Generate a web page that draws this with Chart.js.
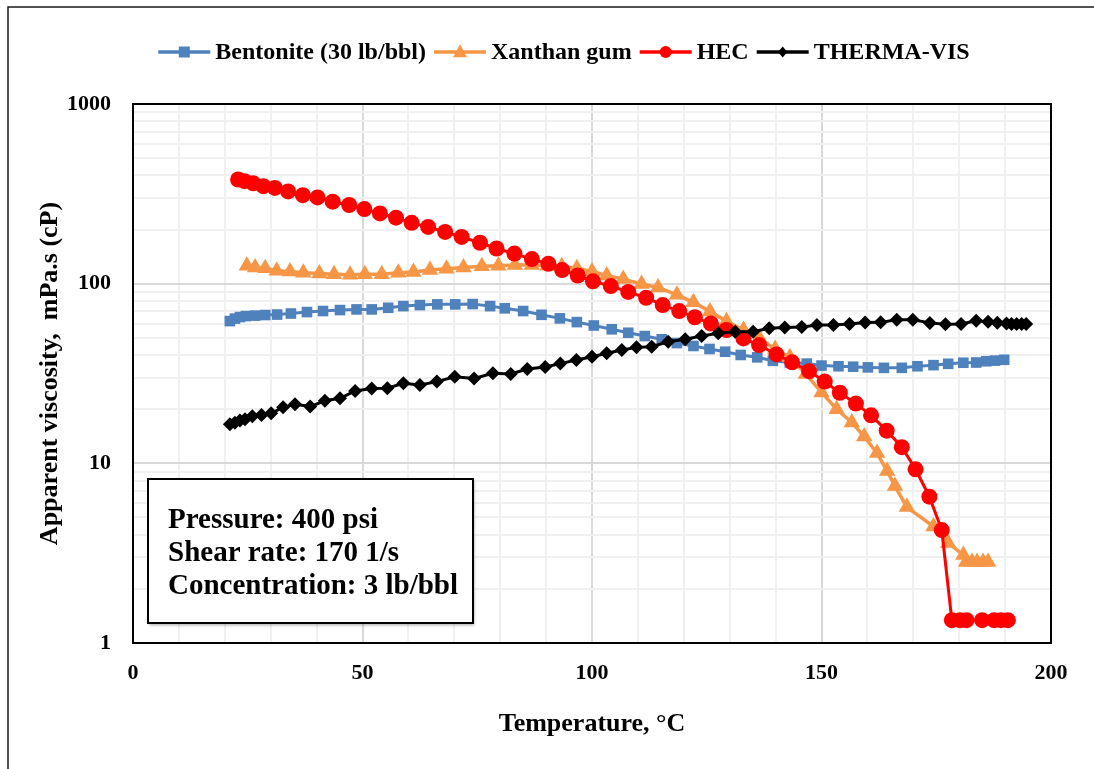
<!DOCTYPE html>
<html>
<head>
<meta charset="utf-8">
<script src="https://cdn.jsdelivr.net/npm/chart.js@4/dist/chart.umd.min.js"></script>
<style>
  html, body { margin: 0; padding: 0; background: #ffffff; }
  #wrap { width: 1094px; height: 769px; position: relative; }
</style>
</head>
<body>
<div id="wrap"><canvas id="chart" width="1094" height="769"></canvas></div>
<script>
// ---- data: temperature (°C) and apparent viscosity (cP) ----
const seriesNames = ['Bentonite (30 lb/bbl)', 'Xanthan gum', 'HEC', 'THERMA-VIS'];

const bentoniteTemp = [21.1,22.2,23.3,24.6,26.6,28.8,31.4,34.4,37.9,41.4,45.1,48.7,52.0,55.6,58.9,62.5,66.3,70.2,74.0,77.8,81.0,85.0,89.0,93.0,96.7,100.4,104.3,107.9,111.5,115.2,118.5,122.1,125.6,129.0,132.4,136.0,139.4,143.1,146.8,150.0,153.7,156.9,160.1,163.6,167.5,170.9,174.4,177.6,180.9,183.7,185.9,187.8,189.8];
const bentoniteVisc = [61.9,63.9,65.2,66.0,66.4,66.9,67.3,68.2,69.5,70.4,71.3,71.9,71.9,73.4,75.0,76.0,76.7,76.7,77.0,75.0,72.9,70.4,67.1,64.1,61.1,58.5,55.7,53.3,51.1,49.0,46.7,45.0,43.3,41.8,40.1,38.9,37.2,36.4,35.9,35.0,34.7,34.5,34.2,34.0,34.0,34.7,35.2,35.8,36.3,36.4,37.0,37.3,37.7];

const xanthanTemp = [24.8,26.6,28.8,31.3,34.2,37.1,40.6,43.8,47.3,50.5,54.2,57.8,61.1,64.7,68.3,72.0,76.0,79.6,83.2,86.9,90.3,93.4,96.7,100.0,103.2,106.8,110.8,114.4,118.5,122.1,125.7,129.3,133.0,136.6,139.9,143.1,146.6,150.0,153.3,156.6,159.3,162.1,164.3,166.0,168.6,174.4,177.6,180.9,181.5,182.8,183.9,185.2,186.3];
const xanthanVisc = [126,123,122,118,117,115,114,113,112,113,113,115,116,119,121,123,125,126,127,127,126,125,122,117,111,106,99.5,95.3,86.7,78.7,70.1,61.7,55.2,49.2,43.3,38.9,31.4,24.8,20.0,16.9,14.1,11.4,9.06,7.47,5.71,4.45,3.60,3.09,2.82,2.82,2.82,2.82,2.82];

const hecTemp = [22.9,24.3,26.2,28.4,30.9,33.8,37.0,40.2,43.5,47.1,50.4,53.8,57.3,60.7,64.3,68.0,71.6,75.6,79.2,83.1,86.9,90.5,93.5,96.9,100.2,104.1,107.9,111.8,115.4,119.0,122.4,125.9,129.3,133.0,136.4,140.2,143.6,147.3,150.7,154.0,157.5,160.8,164.2,167.5,170.5,173.5,176.2,178.4,180.2,181.6,185.0,187.6,189.1,190.6];
const hecVisc = [380,372,362,349,341,326,311,302,286,274,260,246,233,218,207,194,182,169,157,147,137,129,119,111,103,97,90,83.5,76,70.4,65,60,55.2,49.6,45.5,40.4,36.5,32.6,28.5,24.7,21.5,18.5,15.2,12.3,9.26,6.52,4.25,1.34,1.34,1.34,1.34,1.34,1.34,1.34];

const thermaTemp = [21.1,22.2,23.3,24.4,26.0,28.0,30.1,32.7,35.3,38.6,41.8,45.1,48.4,52.0,55.4,58.9,62.5,66.2,70.1,74.3,78.4,82.3,85.9,89.8,93.1,96.6,100.0,103.2,106.5,109.7,113.0,116.6,120.3,123.9,127.5,131.2,135.1,138.6,142.0,145.7,149.0,152.6,156.1,159.5,162.9,166.4,169.9,173.6,177.0,180.4,183.7,186.3,188.3,190.3,191.4,192.5,193.6,194.6];
const thermaVisc = [16.5,16.8,17.3,17.6,18.3,18.6,19.0,20.5,21.3,20.7,22.3,23.0,25.3,26.1,26.2,27.9,27.3,28.5,30.3,29.7,31.7,31.4,33.5,34.4,35.9,37.6,39.2,41.0,42.7,44.2,44.6,47.5,49.0,51.1,52.9,54.0,54.0,56.4,57.0,57.3,58.9,58.9,59.6,60.8,60.9,63.0,63.0,60.5,59.4,59.6,62.1,61.4,60.6,60.1,59.6,59.6,59.6,59.6];

// ---- axes ----
const yTickValues = [1,2,3,4,5,6,7,8,9,10,20,30,40,50,60,70,80,90,100,200,300,400,500,600,700,800,900,1000];
const yTickLabels = ['1', '10', '100', '1000'];
const xTickLabels = ['0', '50', '100', '150', '200'];

const noteLines = ['Pressure: 400 psi', 'Shear rate: 170 1/s', 'Concentration: 3 lb/bbl'];

const SERIF = '"Liberation Serif", "Times New Roman", serif';

function pts(xs, ys) { return xs.map((x, i) => ({ x: x, y: ys[i] })); }

// marker drawing used by the legend
function drawMarker(ctx, style, x, y, r) {
  ctx.beginPath();
  if (style === 'rect') {
    ctx.rect(x - r, y - r, 2 * r, 2 * r);
  } else if (style === 'triangle') {
    ctx.moveTo(x, y - r * 1.1);
    ctx.lineTo(x + r, y + r * 0.75);
    ctx.lineTo(x - r, y + r * 0.75);
    ctx.closePath();
  } else if (style === 'circle') {
    ctx.arc(x, y, r, 0, Math.PI * 2);
  } else if (style === 'rectRot') {
    ctx.moveTo(x, y - r);
    ctx.lineTo(x + r * 0.85, y);
    ctx.lineTo(x, y + r);
    ctx.lineTo(x - r * 0.85, y);
    ctx.closePath();
  }
  ctx.fill();
}

const legendPlugin = {
  id: 'seriesLegend',
  afterDraw(chart) {
    const ctx = chart.ctx;
    ctx.save();
    ctx.font = 'bold 24px ' + SERIF;
    ctx.textBaseline = 'middle';
    const seg = 52, gapText = 5, gapItem = 8;
    const items = chart.data.datasets.map(ds => ({ ds: ds, w: seg + gapText + ctx.measureText(ds.label).width }));
    const total = items.reduce((a, it) => a + it.w, 0) + gapItem * (items.length - 1);
    let x = 564 - total / 2;
    const y = 52;
    items.forEach(it => {
      const ds = it.ds;
      ctx.strokeStyle = ds.borderColor;
      ctx.lineWidth = 3.5;
      ctx.beginPath();
      ctx.moveTo(x, y);
      ctx.lineTo(x + seg, y);
      ctx.stroke();
      ctx.fillStyle = ds.borderColor;
      drawMarker(ctx, ds.pointStyle, x + seg / 2, y, ds.legendMarker);
      ctx.fillStyle = '#000';
      ctx.fillText(ds.label, x + seg + gapText, y + 1);
      x += it.w + gapItem;
    });
    ctx.restore();
  }
};

const framePlugin = {
  id: 'frames',
  beforeDatasetsDraw(chart) {
    const { ctx, chartArea: a } = chart;
    ctx.save();
    ctx.strokeStyle = '#000';
    ctx.lineWidth = 2;
    ctx.strokeRect(a.left, a.top, a.right - a.left, a.bottom - a.top);
    ctx.restore();
  },
  afterDraw(chart) {
    const ctx = chart.ctx;
    ctx.save();
    // outer chart border
    ctx.strokeStyle = '#1a1a1a';
    ctx.lineWidth = 1.5;
    ctx.beginPath();
    ctx.moveTo(8, 775);
    ctx.lineTo(8, 7);
    ctx.lineTo(1100, 7);
    ctx.stroke();

    // conditions note box
    const bx = 148, by = 479, bw = 325, bh = 144;
    ctx.save();
    ctx.shadowColor = 'rgba(0,0,0,0.35)';
    ctx.shadowBlur = 3;
    ctx.shadowOffsetX = 1;
    ctx.shadowOffsetY = 2;
    ctx.fillStyle = '#fff';
    ctx.fillRect(bx, by, bw, bh);
    ctx.restore();
    ctx.strokeStyle = '#000';
    ctx.lineWidth = 2;
    ctx.strokeRect(bx, by, bw, bh);
    ctx.fillStyle = '#000';
    ctx.font = 'bold 29px ' + SERIF;
    ctx.textBaseline = 'middle';
    noteLines.forEach((t, i) => ctx.fillText(t, 168, 521 + i * 33));
    ctx.restore();
  }
};

const isDecade = v => Math.abs(Math.log10(v) - Math.round(Math.log10(v))) < 1e-9;

const chart = new Chart(document.getElementById('chart'), {
  type: 'line',
  data: {
    datasets: [
      {
        label: seriesNames[0], data: pts(bentoniteTemp, bentoniteVisc),
        borderColor: '#4F81BD', backgroundColor: '#4F81BD', borderWidth: 3,
        pointStyle: 'rect', pointRadius: 7.5, pointBorderWidth: 0, legendMarker: 5.5, order: 3
      },
      {
        label: seriesNames[1], data: pts(xanthanTemp, xanthanVisc),
        borderColor: '#F79646', backgroundColor: '#F79646', borderWidth: 3.5,
        pointStyle: 'triangle', pointRadius: 9.5, pointBorderWidth: 0, legendMarker: 7, order: 2
      },
      {
        label: seriesNames[2], data: pts(hecTemp, hecVisc),
        borderColor: '#FF0000', backgroundColor: '#FF0000', borderWidth: 3,
        pointStyle: 'circle', pointRadius: 8, pointBorderWidth: 0, legendMarker: 6, order: 1
      },
      {
        label: seriesNames[3], data: pts(thermaTemp, thermaVisc),
        borderColor: '#000000', backgroundColor: '#000000', borderWidth: 3,
        pointStyle: 'rectRot', pointRadius: 7, pointBorderWidth: 0, legendMarker: 5.5, order: 0
      }
    ]
  },
  options: {
    responsive: false,
    animation: false,
    devicePixelRatio: 1,
    layout: { padding: { top: 104, left: 0, right: 43, bottom: 0 } },
    elements: { line: { tension: 0 } },
    plugins: { legend: { display: false }, tooltip: { enabled: false } },
    scales: {
      x: {
        type: 'linear', min: 0, max: 200,
        afterFit: s => { s.height = 126; },
        ticks: {
          stepSize: 10, autoSkip: false, maxRotation: 0, padding: 17, color: '#000',
          font: { family: SERIF, size: 22, weight: 'bold' },
          callback: v => (xTickLabels.includes(String(v)) ? String(v) : '')
        },
        grid: {
          drawTicks: false, lineWidth: 2,
          color: c => (c.tick && c.tick.value % 50 === 0 ? '#d9d9d9' : '#f0f0f0')
        },
        border: { display: true, color: '#000', width: 2 },
        title: {
          display: true, text: 'Temperature, °C', color: '#000',
          font: { family: SERIF, size: 26, weight: 'bold' },
          padding: { top: 0, bottom: 29 }
        }
      },
      y: {
        type: 'logarithmic', min: 1, max: 1000,
        afterFit: s => { s.width = 133; },
        afterBuildTicks: s => { s.ticks = yTickValues.map(v => ({ value: v })); },
        ticks: {
          autoSkip: false, padding: 22, color: '#000',
          font: { family: SERIF, size: 22, weight: 'bold' },
          callback: v => (isDecade(v) && yTickLabels.includes(String(Math.round(v))) ? String(Math.round(v)) : '')
        },
        grid: {
          drawTicks: false, lineWidth: 2,
          color: c => (c.tick && isDecade(c.tick.value) ? '#d9d9d9' : '#f0f0f0')
        },
        border: { display: true, color: '#000', width: 2 },
        title: {
          display: true, text: 'Apparent viscosity,  mPa.s (cP)', color: '#000',
          font: { family: SERIF, size: 26, weight: 'bold' },
          padding: { top: 35, bottom: 0 }
        }
      }
    }
  },
  plugins: [legendPlugin, framePlugin]
});
</script>
</body>
</html>
